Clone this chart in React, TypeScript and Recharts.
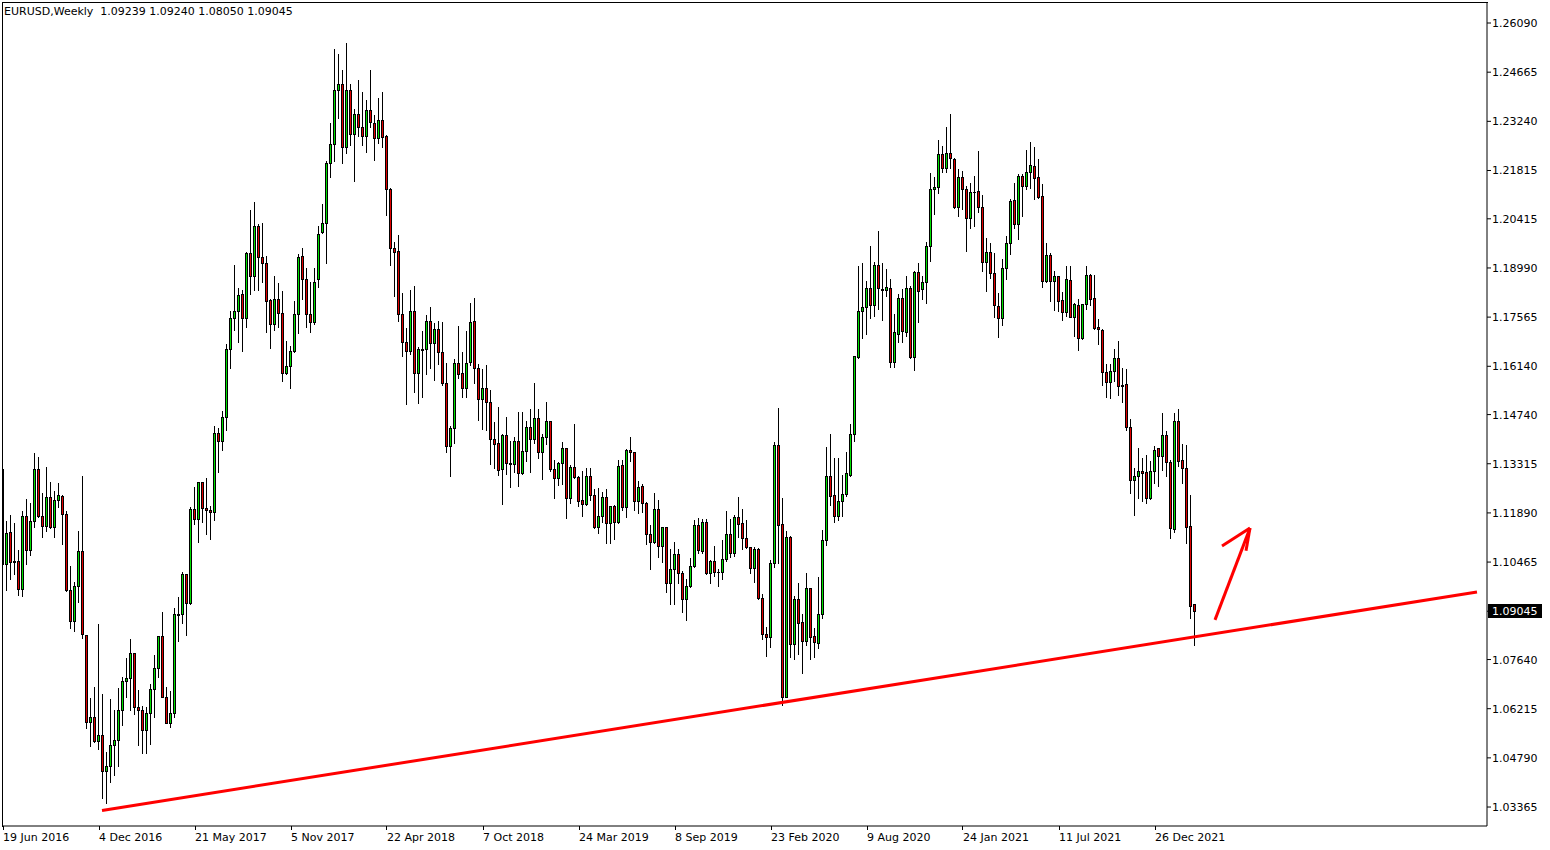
import { ComposedChart, Bar, XAxis, YAxis, ReferenceLine } from 'recharts'

// weekly EURUSD candles, 19 Jun 2016 .. 6 Mar 2022
const opens = [
  1.1315, 1.1040, 1.1133, 1.1049, 1.1049, 1.0969, 1.1179, 1.1082, 1.1165, 1.1315,
  1.1181, 1.1152, 1.1234, 1.1149, 1.1225, 1.1237, 1.1185, 1.0967, 1.0877, 1.0977,
  1.1080, 1.0834, 1.0584, 1.0597, 1.0529, 1.0544, 1.0442, 1.0455, 1.0515, 1.0530,
  1.0618, 1.0702, 1.0710, 1.0783, 1.0627, 1.0617, 1.0559, 1.0608, 1.0678, 1.0739,
  1.0832, 1.0656, 1.0581, 1.0608, 1.0895, 1.0895, 1.1011, 1.0929, 1.1199, 1.1172,
  1.1278, 1.1202, 1.1196, 1.1191, 1.1420, 1.1396, 1.1466, 1.1663, 1.1753, 1.1774,
  1.1823, 1.1755, 1.1943, 1.1877, 1.2021, 1.1932, 1.1912, 1.1806, 1.1736, 1.1808,
  1.1769, 1.1594, 1.1615, 1.1657, 1.1765, 1.1934, 1.1866, 1.1767, 1.1743, 1.1866,
  1.2004, 1.2030, 1.2202, 1.2257, 1.2415, 1.2432, 1.2250, 1.2415, 1.2286, 1.2345,
  1.2309, 1.2282, 1.2357, 1.2318, 1.2275, 1.2328, 1.2281, 1.2127, 1.1956, 1.1948,
  1.1767, 1.1685, 1.1659, 1.1774, 1.1594, 1.1663, 1.1663, 1.1744, 1.1682, 1.1721,
  1.1656, 1.1567, 1.1384, 1.1434, 1.1623, 1.1594, 1.1550, 1.1625, 1.1744, 1.1608,
  1.1518, 1.1550, 1.1510, 1.1402, 1.1391, 1.1315, 1.1415, 1.1333, 1.1331, 1.1397,
  1.1304, 1.1368, 1.1437, 1.1402, 1.1463, 1.1365, 1.1408, 1.1455, 1.1316, 1.1289,
  1.1333, 1.1376, 1.1231, 1.1323, 1.1292, 1.1226, 1.1214, 1.1297, 1.1241, 1.1147,
  1.1180, 1.1234, 1.1159, 1.1209, 1.1164, 1.1328, 1.1207, 1.1371, 1.1365, 1.1224,
  1.1267, 1.1217, 1.1128, 1.1106, 1.1199, 1.1093, 1.1147, 1.0985, 1.1025, 1.1069,
  1.1014, 1.0939, 1.0978, 1.1035, 1.1154, 1.1080, 1.1162, 1.1016, 1.1049, 1.1019,
  1.1019, 1.1055, 1.1127, 1.1074, 1.1176, 1.1159, 1.1115, 1.1089, 1.1028, 1.1083,
  1.0941, 1.0837, 1.0828, 1.1043, 1.1386, 1.1156, 1.0656, 1.1120, 1.0808, 1.0939,
  1.0872, 1.0819, 1.0970, 1.0832, 1.0813, 1.0895, 1.1110, 1.1296, 1.1241, 1.1181,
  1.1223, 1.1243, 1.1299, 1.1418, 1.1642, 1.1774, 1.1785, 1.1840, 1.1792, 1.1908,
  1.1838, 1.1835, 1.1840, 1.1625, 1.1709, 1.1811, 1.1714, 1.1840, 1.1642, 1.1886,
  1.1837, 1.1857, 1.1964, 1.2127, 1.2133, 1.2228, 1.2190, 1.2231, 1.2214, 1.2077,
  1.2164, 1.2127, 1.2043, 1.2120, 1.2122, 1.2075, 1.1917, 1.1946, 1.1883, 1.1790,
  1.1753, 1.1898, 1.1972, 1.2096, 1.2025, 1.2166, 1.2138, 1.2176, 1.2195, 1.2162,
  1.2108, 1.1862, 1.1937, 1.1862, 1.1877, 1.1806, 1.1772, 1.1864, 1.1758, 1.1792,
  1.1695, 1.1795, 1.1879, 1.1811, 1.1727, 1.1719, 1.1597, 1.1569, 1.1600, 1.1637,
  1.1559, 1.1562, 1.1439, 1.1283, 1.1297, 1.1311, 1.1309, 1.1233, 1.1311, 1.1376,
  1.1355, 1.1415, 1.1336, 1.1141, 1.1455, 1.1342, 1.1318, 1.1151, 1.09239,
]

const highs = [
  1.1426, 1.1168, 1.1186, 1.1163, 1.1083, 1.1197, 1.1231, 1.1220, 1.1365, 1.1353,
  1.1249, 1.1325, 1.1281, 1.1255, 1.1279, 1.1244, 1.1197, 1.1038, 1.0992, 1.1139,
  1.1299, 1.0837, 1.0655, 1.0687, 1.0869, 1.0666, 1.0499, 1.0653, 1.0621, 1.0683,
  1.0716, 1.0772, 1.0826, 1.0785, 1.0678, 1.0631, 1.0629, 1.0695, 1.0780, 1.0835,
  1.0905, 1.0687, 1.0676, 1.0915, 1.0948, 1.1021, 1.1013, 1.1209, 1.1267, 1.1282,
  1.1282, 1.1294, 1.1212, 1.1444, 1.1437, 1.1487, 1.1681, 1.1777, 1.1911, 1.1845,
  1.1837, 1.1948, 1.2070, 1.2093, 1.2028, 1.2032, 1.1936, 1.1811, 1.1879, 1.1857,
  1.1835, 1.1690, 1.1676, 1.1806, 1.1941, 1.1961, 1.1901, 1.1862, 1.1901, 1.2023,
  1.2088, 1.2212, 1.2323, 1.2536, 1.2523, 1.2475, 1.2554, 1.2436, 1.2362, 1.2446,
  1.2413, 1.2389, 1.2475, 1.2345, 1.2394, 1.2412, 1.2287, 1.2135, 1.1978, 1.1996,
  1.1828, 1.1727, 1.1837, 1.1850, 1.1673, 1.1719, 1.1767, 1.1789, 1.1743, 1.1748,
  1.1745, 1.1625, 1.1444, 1.1637, 1.1734, 1.1658, 1.1719, 1.1799, 1.1815, 1.1623,
  1.1608, 1.1621, 1.1548, 1.1455, 1.1499, 1.1421, 1.1470, 1.1400, 1.1412, 1.1484,
  1.1484, 1.1458, 1.1492, 1.1568, 1.1492, 1.1421, 1.1513, 1.1458, 1.1344, 1.1340,
  1.1397, 1.1381, 1.1331, 1.1449, 1.1299, 1.1313, 1.1321, 1.1323, 1.1260, 1.1265,
  1.1253, 1.1260, 1.1212, 1.1215, 1.1345, 1.1345, 1.1378, 1.1412, 1.1367, 1.1284,
  1.1275, 1.1224, 1.1156, 1.1251, 1.1229, 1.1151, 1.1149, 1.1086, 1.1108, 1.1086,
  1.1024, 1.1000, 1.1062, 1.1170, 1.1176, 1.1175, 1.1175, 1.1055, 1.1096, 1.1028,
  1.1113, 1.1197, 1.1175, 1.1186, 1.1238, 1.1204, 1.1171, 1.1093, 1.1093, 1.1091,
  1.0958, 1.0861, 1.1054, 1.1396, 1.1495, 1.1236, 1.1139, 1.1125, 1.0951, 1.0990,
  1.0898, 1.1019, 1.0975, 1.0859, 1.1006, 1.1141, 1.1383, 1.1422, 1.1350, 1.1350,
  1.1302, 1.1369, 1.1451, 1.1647, 1.1908, 1.1917, 1.1864, 1.1966, 1.1919, 1.2009,
  1.1917, 1.1900, 1.1871, 1.1769, 1.1825, 1.1840, 1.1879, 1.1850, 1.1893, 1.1917,
  1.1880, 1.1977, 1.2178, 1.2166, 1.2272, 1.2255, 1.2310, 1.2347, 1.2220, 1.2188,
  1.2183, 1.2139, 1.2149, 1.2168, 1.2241, 1.2112, 1.1990, 1.1975, 1.1946, 1.1830,
  1.1929, 1.1995, 1.2101, 1.2149, 1.2173, 1.2173, 1.2244, 1.2267, 1.2253, 1.2219,
  1.2144, 1.1973, 1.1944, 1.1893, 1.1879, 1.1832, 1.1908, 1.1908, 1.1801, 1.1811,
  1.1798, 1.1908, 1.1884, 1.1882, 1.1753, 1.1724, 1.1623, 1.1624, 1.1666, 1.1690,
  1.1613, 1.1608, 1.1463, 1.1323, 1.1381, 1.1352, 1.1359, 1.1342, 1.1386, 1.1381,
  1.1481, 1.1429, 1.1344, 1.1481, 1.1492, 1.1393, 1.1389, 1.1243, 1.09240,
]

const lows = [
  1.0908, 1.0966, 1.0997, 1.1012, 1.0952, 1.0949, 1.1042, 1.1068, 1.1149, 1.1178,
  1.1120, 1.1138, 1.1146, 1.1120, 1.1207, 1.1100, 1.0964, 1.0856, 1.0848, 1.0932,
  1.0827, 1.0567, 1.0514, 1.0525, 1.0504, 1.0364, 1.0349, 1.0410, 1.0430, 1.0455,
  1.0574, 1.0655, 1.0618, 1.0605, 1.0516, 1.0492, 1.0492, 1.0519, 1.0596, 1.0714,
  1.0656, 1.0579, 1.0568, 1.0598, 1.0818, 1.0871, 1.0835, 1.0925, 1.1157, 1.1106,
  1.1164, 1.1128, 1.1114, 1.1168, 1.1309, 1.1371, 1.1429, 1.1610, 1.1719, 1.1685,
  1.1659, 1.1729, 1.1823, 1.1835, 1.1835, 1.1859, 1.1714, 1.1668, 1.1719, 1.1727,
  1.1572, 1.1592, 1.1552, 1.1656, 1.1710, 1.1808, 1.1727, 1.1714, 1.1737, 1.1845,
  1.1999, 1.1914, 1.2164, 1.2210, 1.2333, 1.2204, 1.2233, 1.2255, 1.2152, 1.2281,
  1.2255, 1.2236, 1.2308, 1.2212, 1.2260, 1.2249, 1.2052, 1.1909, 1.1819, 1.1746,
  1.1644, 1.1505, 1.1651, 1.1540, 1.1507, 1.1524, 1.1591, 1.1610, 1.1574, 1.1620,
  1.1560, 1.1366, 1.1297, 1.1393, 1.1579, 1.1526, 1.1524, 1.1617, 1.1566, 1.1458,
  1.1431, 1.1429, 1.1331, 1.1318, 1.1299, 1.1214, 1.1301, 1.1265, 1.1308, 1.1268,
  1.1301, 1.1340, 1.1307, 1.1393, 1.1349, 1.1286, 1.1388, 1.1311, 1.1231, 1.1270,
  1.1273, 1.1173, 1.1219, 1.1289, 1.1209, 1.1181, 1.1212, 1.1226, 1.1145, 1.1132,
  1.1164, 1.1103, 1.1103, 1.1112, 1.1159, 1.1197, 1.1178, 1.1339, 1.1197, 1.1190,
  1.1193, 1.1098, 1.1025, 1.1101, 1.1062, 1.1048, 1.0961, 1.0924, 1.0924, 1.0987,
  1.0903, 1.0879, 1.0975, 1.1033, 1.1072, 1.1072, 1.1012, 1.0987, 1.1006, 1.0978,
  1.0997, 1.1051, 1.1062, 1.1064, 1.1120, 1.1083, 1.1086, 1.1016, 1.0990, 1.0939,
  1.0823, 1.0775, 1.0799, 1.1033, 1.1043, 1.0632, 1.0654, 1.0770, 1.0765, 1.0780,
  1.0724, 1.0806, 1.0765, 1.0772, 1.0796, 1.0883, 1.1096, 1.1212, 1.1164, 1.1168,
  1.1181, 1.1238, 1.1296, 1.1398, 1.1639, 1.1695, 1.1708, 1.1753, 1.1761, 1.1779,
  1.1748, 1.1818, 1.1611, 1.1613, 1.1685, 1.1685, 1.1702, 1.1637, 1.1603, 1.1743,
  1.1809, 1.1798, 1.1920, 1.2055, 1.2115, 1.2178, 1.2178, 1.2188, 1.2072, 1.2050,
  1.2070, 1.1949, 1.2014, 1.2021, 1.2062, 1.1891, 1.1833, 1.1869, 1.1758, 1.1700,
  1.1734, 1.1867, 1.1939, 1.2014, 1.1983, 1.2050, 1.2127, 1.2130, 1.2099, 1.2103,
  1.1845, 1.1857, 1.1803, 1.1777, 1.1774, 1.1748, 1.1761, 1.1756, 1.1702, 1.1661,
  1.1692, 1.1780, 1.1792, 1.1722, 1.1679, 1.1560, 1.1526, 1.1521, 1.1572, 1.1531,
  1.1511, 1.1429, 1.1248, 1.1183, 1.1231, 1.1224, 1.1219, 1.1228, 1.1275, 1.1267,
  1.1313, 1.1296, 1.1117, 1.1135, 1.1325, 1.1277, 1.1103, 1.0883, 1.08050,
]

const closes = [
  1.1040, 1.1130, 1.1048, 1.1047, 1.0969, 1.1179, 1.1082, 1.1165, 1.1315, 1.1181,
  1.1152, 1.1234, 1.1149, 1.1225, 1.1240, 1.1185, 1.0967, 1.0877, 1.0977, 1.1080,
  1.0837, 1.0584, 1.0597, 1.0529, 1.0544, 1.0442, 1.0455, 1.0515, 1.0530, 1.0618,
  1.0702, 1.0710, 1.0783, 1.0627, 1.0619, 1.0559, 1.0608, 1.0678, 1.0739, 1.0832,
  1.0656, 1.0581, 1.0608, 1.0895, 1.0893, 1.1011, 1.0929, 1.1199, 1.1172, 1.1278,
  1.1202, 1.1196, 1.1191, 1.1420, 1.1396, 1.1466, 1.1663, 1.1753, 1.1774, 1.1820,
  1.1755, 1.1943, 1.1877, 1.2021, 1.1932, 1.1912, 1.1804, 1.1736, 1.1808, 1.1769,
  1.1594, 1.1615, 1.1657, 1.1765, 1.1932, 1.1866, 1.1767, 1.1743, 1.1857, 1.1997,
  1.2030, 1.2204, 1.2257, 1.2415, 1.2432, 1.2250, 1.2415, 1.2286, 1.2345, 1.2308,
  1.2282, 1.2357, 1.2322, 1.2275, 1.2328, 1.2280, 1.2127, 1.1956, 1.1946, 1.1767,
  1.1685, 1.1659, 1.1774, 1.1594, 1.1663, 1.1662, 1.1744, 1.1682, 1.1721, 1.1656,
  1.1567, 1.1384, 1.1434, 1.1623, 1.1592, 1.1550, 1.1623, 1.1741, 1.1608, 1.1518,
  1.1550, 1.1511, 1.1402, 1.1388, 1.1313, 1.1415, 1.1335, 1.1331, 1.1397, 1.1304,
  1.1368, 1.1437, 1.1402, 1.1463, 1.1365, 1.1408, 1.1455, 1.1316, 1.1289, 1.1333,
  1.1376, 1.1231, 1.1323, 1.1292, 1.1224, 1.1214, 1.1297, 1.1241, 1.1147, 1.1180,
  1.1234, 1.1159, 1.1209, 1.1164, 1.1325, 1.1207, 1.1371, 1.1365, 1.1224, 1.1263,
  1.1217, 1.1127, 1.1106, 1.1199, 1.1093, 1.1147, 1.0985, 1.1025, 1.1069, 1.1014,
  1.0939, 1.0978, 1.1035, 1.1154, 1.1082, 1.1162, 1.1016, 1.1049, 1.1019, 1.1018,
  1.1055, 1.1127, 1.1074, 1.1176, 1.1156, 1.1115, 1.1089, 1.1028, 1.1083, 1.0941,
  1.0837, 1.0828, 1.1043, 1.1386, 1.1154, 1.0656, 1.1120, 1.0808, 1.0939, 1.0869,
  1.0819, 1.0970, 1.0830, 1.0816, 1.0895, 1.1110, 1.1296, 1.1239, 1.1181, 1.1223,
  1.1243, 1.1304, 1.1418, 1.1644, 1.1774, 1.1785, 1.1840, 1.1792, 1.1908, 1.1840,
  1.1836, 1.1843, 1.1625, 1.1712, 1.1811, 1.1717, 1.1840, 1.1642, 1.1886, 1.1833,
  1.1857, 1.1964, 1.2127, 1.2133, 1.2228, 1.2190, 1.2231, 1.2217, 1.2077, 1.2164,
  1.2127, 1.2043, 1.2120, 1.2119, 1.2075, 1.1917, 1.1946, 1.1883, 1.1792, 1.1753,
  1.1898, 1.1970, 1.2093, 1.2025, 1.2166, 1.2138, 1.2176, 1.2198, 1.2161, 1.2106,
  1.1862, 1.1937, 1.1862, 1.1877, 1.1804, 1.1772, 1.1867, 1.1758, 1.1795, 1.1695,
  1.1795, 1.1879, 1.1809, 1.1726, 1.1721, 1.1596, 1.1569, 1.1600, 1.1637, 1.1558,
  1.1558, 1.1439, 1.1283, 1.1297, 1.1311, 1.1306, 1.1233, 1.1311, 1.1371, 1.1355,
  1.1415, 1.1338, 1.1144, 1.1455, 1.1340, 1.1318, 1.1149, 1.0920, 1.09045,
]

// time scale labels, one every 24 weeks starting at bar 0
const dateLabels = [
  '19 Jun 2016', '4 Dec 2016', '21 May 2017', '5 Nov 2017', '22 Apr 2018', '7 Oct 2018',
  '24 Mar 2019', '8 Sep 2019', '23 Feb 2020', '9 Aug 2020', '24 Jan 2021', '11 Jul 2021',
  '26 Dec 2021',
]
const dateTicks = dateLabels.map((_, k) => k * 24)

const priceTicks = [
  1.2609, 1.24665, 1.2324, 1.21815, 1.20415, 1.1899, 1.17565, 1.1614, 1.1474,
  1.13315, 1.1189, 1.10465, 1.0904, 1.0764, 1.06215, 1.0479, 1.03365,
]

const symbol = 'EURUSD,Weekly'
const lastBar = '1.09239 1.09240 1.08050 1.09045'
const lastPrice = 1.09045

// hand drawn support line and arrow (bar index, price)
const supportLine = [{ x: 24.75, y: 1.03264 }, { x: 368.5, y: 1.09598 }]
const arrowShaft = [{ x: 303, y: 1.0879 }, { x: 311.75, y: 1.1145 }]
const arrowBarbL = [{ x: 304.75, y: 1.1093 }, { x: 311.75, y: 1.1145 }]
const arrowBarbR = [{ x: 310.75, y: 1.1079 }, { x: 311.75, y: 1.1145 }]

const data = opens.map((o, i) => ({
  i,
  o,
  h: highs[i],
  l: lows[i],
  c: closes[i],
  range: [lows[i], highs[i]],
}))

const BULL = '#00E000'
const BEAR = '#E00000'
const FONT = '"DejaVu Sans", Tahoma, sans-serif'

function Candle(props: any) {
  const { x, y, width, height, payload } = props
  if (x == null || y == null) return null
  const top = Math.min(y, y + height)
  const span = Math.abs(height)
  const { o, c, h, l } = payload
  const py = (v: number) => (h === l ? top : top + ((h - v) / (h - l)) * span)
  const px = (v: number) => Math.round(v) + 0.5
  const cx = Math.floor(x + width / 2) + 0.5
  const bodyTop = px(py(Math.max(o, c)))
  const bodyBot = px(py(Math.min(o, c)))
  return (
    <g shapeRendering="crispEdges">
      <line x1={cx} x2={cx} y1={px(py(h))} y2={px(py(l))} stroke="#000" strokeWidth={1} />
      {bodyBot - bodyTop < 1 ? (
        <line x1={cx - 1.5} x2={cx + 1.5} y1={bodyTop} y2={bodyTop} stroke="#000" strokeWidth={1} />
      ) : (
        <rect
          x={cx - 1}
          y={bodyTop}
          width={2}
          height={bodyBot - bodyTop}
          fill={c >= o ? BULL : BEAR}
          stroke="#000"
          strokeWidth={1}
        />
      )}
    </g>
  )
}

function TimeTick({ x, y, payload }: any) {
  const k = dateTicks.indexOf(payload.value)
  return (
    <g>
      <line x1={Math.floor(x) + 0.5} x2={Math.floor(x) + 0.5} y1={826} y2={830} stroke="#000" shapeRendering="crispEdges" />
      <text x={x} y={841} textAnchor="start" fontFamily={FONT} fontSize={11} fill="#000">
        {dateLabels[k]}
      </text>
    </g>
  )
}

function PriceTick({ x, y, payload }: any) {
  if (payload.value === 1.0904) {
    return (
      <g>
        <rect x={1488} y={Math.round(y) - 7} width={54} height={14} fill="#000" />
        <text x={1492} y={Math.round(y) + 4} fontFamily={FONT} fontSize={11} fill="#fff">
          {lastPrice.toFixed(5)}
        </text>
      </g>
    )
  }
  return (
    <text x={1492} y={Math.round(y) + 4} fontFamily={FONT} fontSize={11} fill="#000">
      {payload.value.toFixed(5)}
    </text>
  )
}

export default function App() {
  return (
    <div style={{ position: 'absolute', left: 0, top: 0, width: 1550, height: 850, background: '#fff' }}>
      <ComposedChart
        width={1550}
        height={850}
        data={data}
        margin={{ top: 2, right: 0, bottom: 0, left: 2 }}
      >
        <XAxis
          dataKey="i"
          type="number"
          domain={[-0.25, 371]}
          allowDataOverflow
          ticks={dateTicks}
          interval={0}
          height={24}
          tickLine={false}
          axisLine={{ stroke: '#000' }}
          tick={<TimeTick />}
        />
        <YAxis
          orientation="right"
          type="number"
          domain={[1.02815, 1.26699]}
          allowDataOverflow
          ticks={priceTicks}
          interval={0}
          width={63}
          tickSize={4}
          tickLine={{ stroke: '#000' }}
          axisLine={{ stroke: '#000' }}
          tick={<PriceTick />}
        />
        <Bar dataKey="range" barSize={3} shape={<Candle />} isAnimationActive={false} />
        <ReferenceLine segment={supportLine} stroke="#FF0000" strokeWidth={3} />
        <ReferenceLine segment={arrowShaft} stroke="#FF0000" strokeWidth={3} />
        <ReferenceLine segment={arrowBarbL} stroke="#FF0000" strokeWidth={3} />
        <ReferenceLine segment={arrowBarbR} stroke="#FF0000" strokeWidth={3} />
      </ComposedChart>
      <div
        style={{
          position: 'absolute',
          left: 2,
          top: 2,
          width: 1486,
          height: 825,
          boxSizing: 'border-box',
          borderLeft: '1px solid #000',
          borderTop: '1px solid #000',
          pointerEvents: 'none',
        }}
      />
      <div
        style={{
          position: 'absolute',
          left: 4,
          top: 5,
          fontFamily: FONT,
          fontSize: 11,
          color: '#000',
          whiteSpace: 'pre',
        }}
      >
        {symbol + '  ' + lastBar}
      </div>
    </div>
  )
}
